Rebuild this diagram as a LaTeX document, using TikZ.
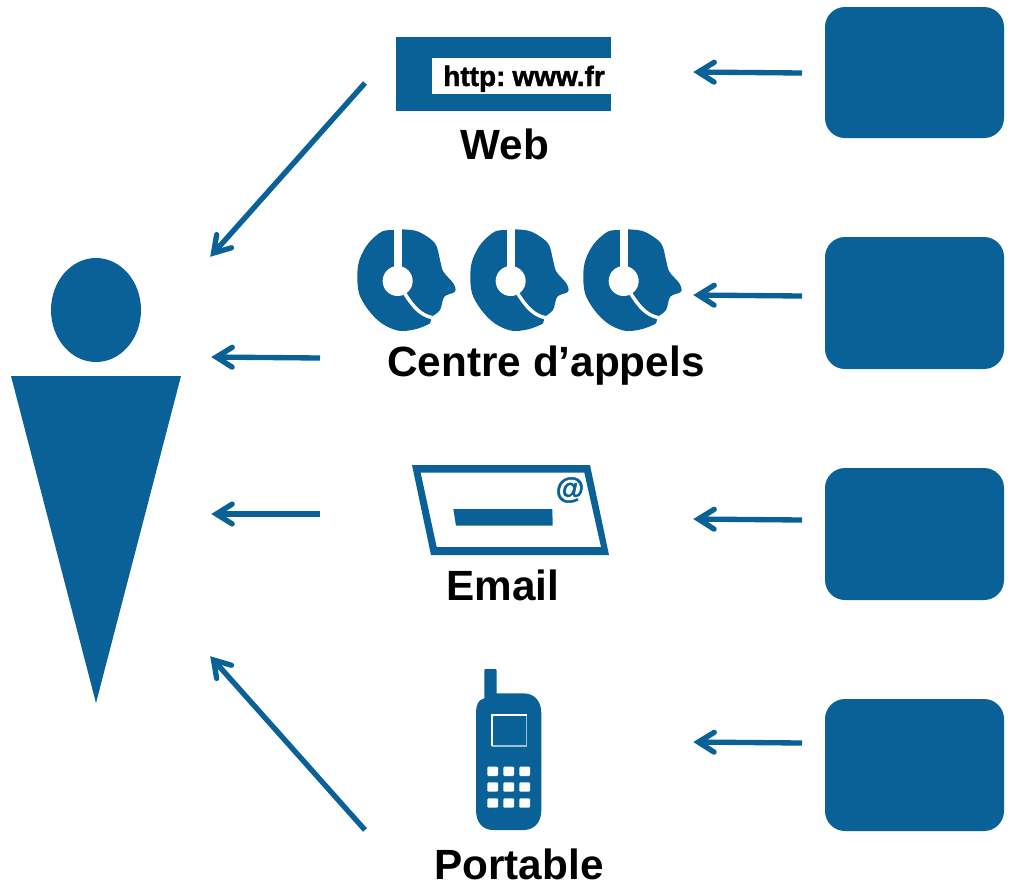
\documentclass[tikz,border=0pt]{standalone}
\usepackage{fontspec}
\setmainfont{Liberation Sans}
\newfontfamily\heavyfont[FakeBold=1.5]{Liberation Sans Bold}
\usetikzlibrary{calc}
\definecolor{blu}{HTML}{0A6197}
\tikzset{
  conn/.style={draw=blu,line width=4pt},
  connhead/.style={draw=blu,line width=4pt,line cap=round,line join=miter,miter limit=10},
  box/.style={fill=blu,rounded corners=15pt},
  lab/.style={font=\bfseries\fontsize{31.7pt}{36pt}\selectfont,text=black,inner sep=0pt,anchor=base},
  fillb/.style={fill=blu,draw=none}
}
\newcommand{\headset}[2]{%
\begin{scope}[shift={(#1,#2)},scale=1/3]
\fill[blu] plot[smooth cycle,tension=.55] coordinates {(147,30)(110,35)(70,70)(45,115)(37,160)(42,220)(70,270)(110,310)(160,332)(210,328)(255,310)(258,293)(285,270)(298,230)(330,215)(325,190)(295,155)(285,120)(270,70)(220,35)(170,28)};
\fill[white] (147,20) rectangle (170,145);
\fill[white] (158,183) circle (45);
\draw[white,line width=2.6pt] (180,222) .. controls (205,260) and (225,285) .. (262,293);
\end{scope}}
\begin{document}
\begin{tikzpicture}[x=0.75pt,y=-0.75pt]
\useasboundingbox (0,0) rectangle (1012,890);
% person
\fill[blu] (96,310) ellipse (45 and 52);
\path[fillb] (11,376) -- (181,376) -- (96,703) -- cycle;
% right boxes
\fill[box] (825,7) rectangle (1004,138);
\fill[box] (825,237) rectangle (1004,369);
\fill[box] (825,468) rectangle (1004,600);
\fill[box] (825,699) rectangle (1004,831);
% web
\path[fillb] (396,37) rectangle (611,111);
\fill[white] (432,58) rectangle (611,94);
\node[font=\heavyfont\fontsize{21pt}{22pt}\selectfont,inner sep=0pt,anchor=base west] (url) at (443,86) {http:\hspace{-2.5pt} www.fr};
\node[lab] (web) at (505,159) {Web};
% headsets
\headset{345}{220}
\headset{458}{220}
\headset{571}{220}
\node[lab] (cc) at (546,376) {Centre d’appels};
% email
\begin{scope}[shift={(400,455)},scale=1/3]
\fill[blu,even odd rule] (36,30) -- (570,30) -- (627,300) -- (93,300) -- cycle (62,53) -- (553,53) -- (603,276) -- (110,276) -- cycle;
\fill[blu] (160,162) -- (457,162) -- (458,212) -- (168,212) -- cycle;
\end{scope}
\node[font=\heavyfont\fontsize{22pt}{22pt}\selectfont,text=blu,inner sep=0pt] (at) at (570,490) {@};
\node[lab] (email) at (503,600) {Email};
% phone
\begin{scope}[shift={(460,660)},scale=1/3]
\fill[blu] (73,115) -- (73,30) -- (76,27) -- (107,27) -- (110,30) -- (110,100) -- (190,100) .. controls (225,100) and (244,125) .. (244,160) -- (244,450) .. controls (244,490) and (220,510) .. (190,510) -- (100,510) .. controls (70,510) and (48,490) .. (48,450) -- (48,160) .. controls (48,135) and (55,118) .. (73,115) -- cycle;
\draw[white!60!blu,line width=1.2pt] (200,165) -- (200,258) -- (97,258);
\draw[white,line width=1.4pt] (97,258) -- (97,165) -- (200,165);
\foreach \x in {82,130,178}{
 \foreach \y in {320,367,415}{
  \fill[white,rounded corners=0.8pt] (\x,\y) rectangle ++(32,28);
 }}
\end{scope}
\node[lab] (portable) at (519,879) {Portable};
% connectors
\coordinate (a1s) at (365,83); \coordinate (a1e) at (210,257);
\coordinate (a2s) at (320,358); \coordinate (a2e) at (211,357);
\coordinate (a3s) at (320,514); \coordinate (a3e) at (211,514);
\coordinate (a4s) at (365,830); \coordinate (a4e) at (210,656);
\coordinate (b1s) at (802,73); \coordinate (b1e) at (693,72);
\coordinate (b2s) at (802,296); \coordinate (b2e) at (693,295);
\coordinate (b3s) at (802,520); \coordinate (b3e) at (693,519);
\coordinate (b4s) at (802,743); \coordinate (b4e) at (693,742);
\foreach \s/\e in {a1s/a1e,a2s/a2e,a3s/a3e,a4s/a4e,b1s/b1e,b2s/b2e,b3s/b3e,b4s/b4e}{
  \coordinate (apex) at ($(\e)!4pt!(\s)$);
  \draw[conn] (\s) -- (apex);
  \draw[connhead] ($(apex)!14pt!32:(\s)$) -- (apex) -- ($(apex)!14pt!-32:(\s)$);
}
\end{tikzpicture}
\end{document}
